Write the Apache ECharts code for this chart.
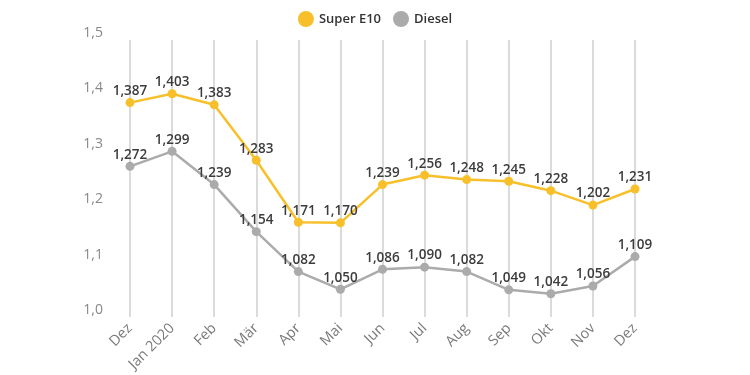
<!DOCTYPE html>
<html>
<head>
<meta charset="utf-8">
<script src="https://cdn.jsdelivr.net/npm/echarts@6/dist/echarts.min.js"></script>
<style>
  html, body { margin: 0; padding: 0; background: #fff; }
  #chart { width: 750px; height: 375px; }
</style>
</head>
<body>
<div id="chart"></div>
<script>
const months = ['Dez', 'Jan 2020', 'Feb', 'Mär', 'Apr', 'Mai', 'Jun', 'Jul', 'Aug', 'Sep', 'Okt', 'Nov', 'Dez'];
const superE10 = [1.387, 1.403, 1.383, 1.283, 1.171, 1.170, 1.239, 1.256, 1.248, 1.245, 1.228, 1.202, 1.231];
const diesel = [1.272, 1.299, 1.239, 1.154, 1.082, 1.050, 1.086, 1.090, 1.082, 1.049, 1.042, 1.056, 1.109];

const fmt = v => v.toFixed(3).replace('.', ',');
const font = '"Open Sans", sans-serif';

const chart = echarts.init(document.getElementById('chart'));

const labelStyle = {
  show: true,
  position: 'top',
  distance: 0,
  color: '#3c3c3c',
  fontSize: 13.5,
  fontWeight: 600,
  fontFamily: font,
  formatter: p => fmt(p.value)
};

chart.setOption({
  animation: false,
  legend: {
    top: 6,
    left: 'center',
    itemWidth: 16,
    itemHeight: 16,
    itemGap: 12,
    icon: 'circle',
    textStyle: { color: '#333', fontSize: 13, fontWeight: 600, fontFamily: font }
  },
  grid: { left: 130, right: 115, top: 40, bottom: 58 },
  xAxis: {
    type: 'category',
    data: months,
    boundaryGap: false,
    axisLine: { show: false },
    axisTick: { show: false },
    axisLabel: { rotate: 45, color: '#7a7a7a', fontSize: 14.5, fontFamily: font, margin: 9 },
    splitLine: { show: true, lineStyle: { color: '#cfcfcf', width: 1.5 } }
  },
  yAxis: {
    type: 'value',
    min: 1.0,
    max: 1.5,
    interval: 0.1,
    axisLine: { show: false },
    axisTick: { show: false },
    splitLine: { show: false },
    axisLabel: {
      color: '#888',
      fontSize: 14,
      fontFamily: font,
      margin: 27,
      verticalAlign: 'bottom',
      formatter: v => v.toFixed(1).replace('.', ',')
    }
  },
  series: [
    {
      name: 'Super E10',
      type: 'line',
      data: superE10,
      color: '#f7c02b',
      symbol: 'circle',
      symbolSize: 9,
      lineStyle: { width: 2.5 },
      label: labelStyle
    },
    {
      name: 'Diesel',
      type: 'line',
      data: diesel,
      color: '#ababab',
      symbol: 'circle',
      symbolSize: 9,
      lineStyle: { width: 2.5 },
      label: labelStyle
    }
  ]
});
</script>
</body>
</html>
